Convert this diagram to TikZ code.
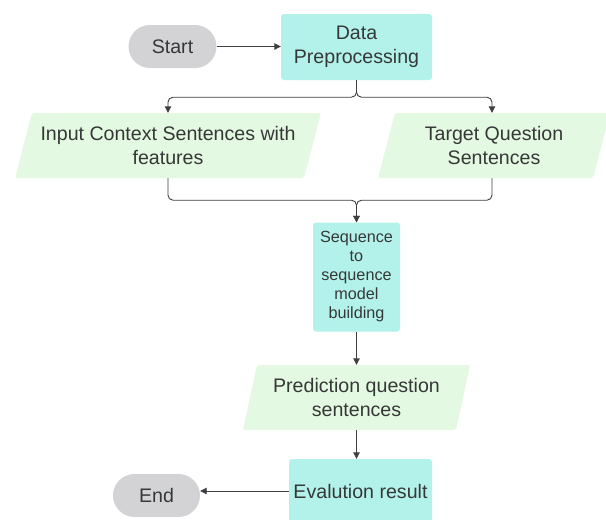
\documentclass[tikz,border=0pt]{standalone}
\usepackage{fontspec}
\setmainfont{Liberation Sans}
\usetikzlibrary{arrows.meta}
\definecolor{pillgray}{HTML}{D3D3D5}
\definecolor{procteal}{HTML}{B3F2EA}
\definecolor{iogreen}{HTML}{E3F9E1}
\definecolor{inkline}{HTML}{3F3F3F}
\definecolor{inktext}{HTML}{363838}

\begin{document}
\begin{tikzpicture}[x=1pt,y=-1pt,
  every node/.style={text=inktext, font=\fontsize{19.6}{24}\selectfont,
    align=center, inner sep=0pt},
  terminal/.style={fill=pillgray, rounded corners=21.5pt,
    minimum width=88pt, minimum height=43pt},
  process/.style={fill=procteal, rounded corners=3pt},
  io/.style 2 args={minimum width=#1, minimum height=65pt,
    path picture={\fill[iogreen, rounded corners=2pt]
      (path picture bounding box.south west)
      -- ([xshift=-#2]path picture bounding box.south east)
      -- (path picture bounding box.north east)
      -- ([xshift=#2]path picture bounding box.north west) -- cycle;}},
  conn/.style={draw=inkline, line width=0.9pt,
    -{Triangle[length=6.5pt,width=6.5pt]}}]

\useasboundingbox (0,0) rectangle (606,520);
\fill[white] (0,0) rectangle (606,520);
\clip (0,0) rectangle (606,520);

% nodes
\node[terminal] (start) at (172.5,46.5) {Start};
\node[process, minimum width=151pt, minimum height=66pt] (prep) at (356.5,47)
  {Data\\Preprocessing};
\node[io={306pt}{17pt}] (input) at (168,145.5)
  {Input Context Sentences with\\features};
\node[io={232pt}{17pt}] (target) at (494,145.5)
  {Target Question\\Sentences};
\node[process, minimum width=87pt, minimum height=109pt,
  font=\fontsize{16.2}{19}\selectfont] (seq) at (356.5,277)
  {Sequence\\to\\sequence\\model\\building};
\node[io={227pt}{14pt}] (pred) at (356.5,397.5)
  {Prediction question\\sentences};
\node[process, minimum width=143pt, minimum height=64pt] (eval) at (360.5,491)
  {Evalution result};
\node[terminal, minimum width=87pt] (end) at (156.5,495.5) {End};

% connectors
\draw[conn] (start.east) -- (start.east -| prep.west);
\draw[conn, rounded corners=5pt] (prep.south) -- ++(0,17) -| (input.north);
\draw[conn, rounded corners=5pt] (prep.south) -- ++(0,17)
  -| ([xshift=-2pt]target.north);
\draw[conn, rounded corners=5pt] (input.south) -- ++(0,22) -| (seq.north);
\draw[conn, rounded corners=5pt] ([xshift=-2pt]target.south) -- ++(0,22)
  -| (seq.north);
\draw[conn] (seq) -- (pred);
\draw[conn] (pred.south) -- (pred.south |- eval.north);
\draw[conn] (eval.west) -- (eval.west -| end.east);
\end{tikzpicture}
\end{document}
